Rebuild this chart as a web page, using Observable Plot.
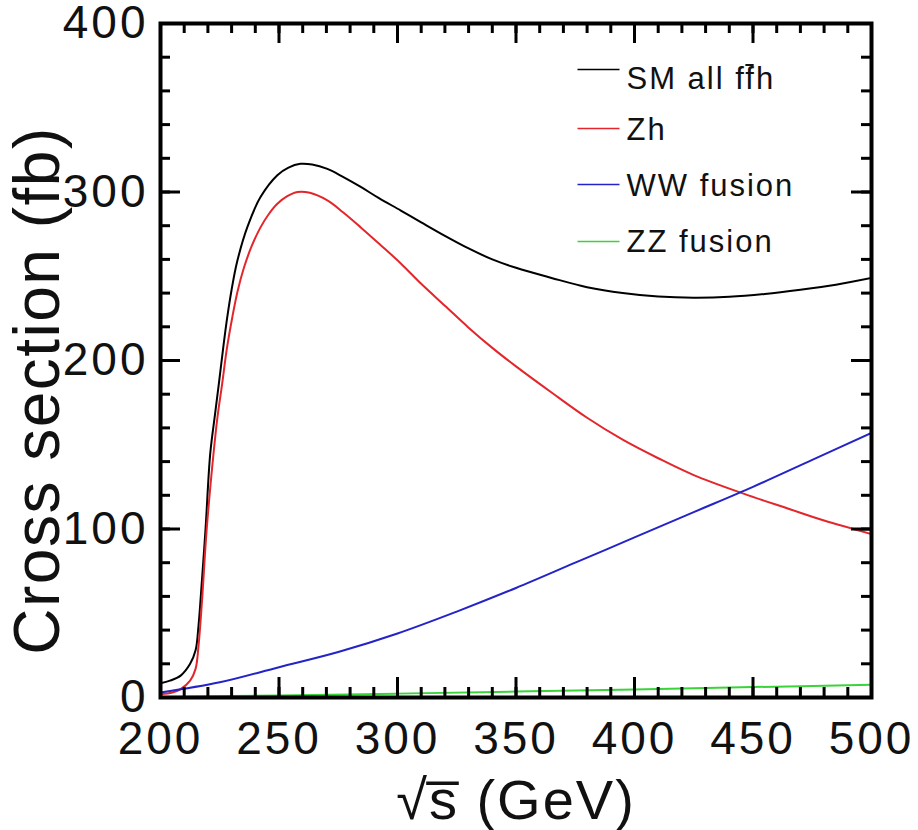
<!DOCTYPE html>
<html><head><meta charset="utf-8">
<script src="https://cdn.jsdelivr.net/npm/d3@7"></script>
<script src="https://cdn.jsdelivr.net/npm/@observablehq/plot@0.6"></script>
<style>
body{margin:0;background:#fff;}
#chart svg{font-family:"Liberation Sans",Arial,Helvetica,sans-serif;}
g[aria-label="x-axis tick label"] text, g[aria-label="y-axis tick label"] text{letter-spacing:3px;}
</style></head><body><div id="chart"></div>
<script>
// ---- data ----
const smX = [200,204,208.5,212.5,214.8,216,217,219,221,223,224.6,226.5,228.2,230,232.4,236.6,242.2,249.3,254,259,264,270.4,277,284.5,292,301.4,310,320,330,340,350,365,380,395,410,425,440,455,470,485,500];
const smY = [8.5,10,13,20,28,42,60,100,145,168,186,208,226,242,259,279,297,310,314.5,316.7,316.3,313.7,309,303,296.5,289,282,274,266.5,260,255,249,243.5,240,238,237.3,237.8,239.5,242,245,249];

const zhX = [200,205,208.5,212.5,214.8,216,217.5,219.5,222.5,224,226,228,230.3,232.5,235.2,238.5,242.2,245.5,249.3,253.5,257.8,263,270.4,277,284.5,292.5,301.4,310,320,330,340,350,365,380,395,410,425,446,465,480,500];
const zhY = [2,3,5,10,17,30,57,100,146.6,166,186,207,225.7,241,255,268,279,286.5,293,297.5,300,299.5,295,288,279,269,257.6,245.5,232.5,219.5,207.5,196.5,181,166,153,142,132,121,112,105,97];

const wwX = [200,225,250,275,300,325,350,375,400,425,450,475,500];
const wwY = [3,9,18,27,38,51,65,80,95,110,125,141,157];

const zzX = [200,250,300,350,400,450,500];
const zzY = [0.3,1.2,2.3,3.5,4.8,6.2,7.5];

const seriesNames = ["SM all ff\u0304h", "Zh", "WW fusion", "ZZ fusion"];
const seriesColors = ["#000000", "#e3262b", "#2323c8", "#3ad33a"];
const seriesData = [[smX, smY], [zhX, zhY], [wwX, wwY], [zzX, zzY]];

const xMajor = [200,250,300,350,400,450,500];
const yMajor = [0,100,200,300,400];
const xMinor = d3.range(200, 501, 10);
const yMinor = d3.range(0, 401, 20);
const xTitle = "\u221As\u0305 (GeV)";
const yTitle = "Cross section (fb)";

// ---- layout ----
const W = 918, H = 830;
const mL = 160, mR = 47, mT = 23, mB = 133;
const fw = W - mL - mR, fh = H - mT - mB;

const toRows = ([xs, ys]) => xs.map((x, i) => ({x, y: ys[i]}));

const hline = {draw(ctx) { ctx.moveTo(-21, 0); ctx.lineTo(21, 0); }};
const legLineY = [69, 128, 184, 241];
const legTextY = [79, 130, 185.5, 242];

const marks = [];
seriesData.forEach((s, i) => {
  marks.push(Plot.line(toRows(s), {x: "x", y: "y", stroke: seriesColors[i], strokeWidth: 2, curve: "catmull-rom", clip: true}));
});
// ticks inside on all four sides
marks.push(
  Plot.tickX(xMinor, {x: d => d, insetTop: fh - 10, stroke: "black", strokeWidth: 3}),
  Plot.tickX(xMajor, {x: d => d, insetTop: fh - 20, stroke: "black", strokeWidth: 3}),
  Plot.tickX(xMinor, {x: d => d, insetBottom: fh - 10, stroke: "black", strokeWidth: 3}),
  Plot.tickX(xMajor, {x: d => d, insetBottom: fh - 20, stroke: "black", strokeWidth: 3}),
  Plot.tickY(yMinor, {y: d => d, insetRight: fw - 10, stroke: "black", strokeWidth: 3}),
  Plot.tickY(yMajor, {y: d => d, insetRight: fw - 20, stroke: "black", strokeWidth: 3}),
  Plot.tickY(yMinor, {y: d => d, insetLeft: fw - 10, stroke: "black", strokeWidth: 3}),
  Plot.tickY(yMajor, {y: d => d, insetLeft: fw - 20, stroke: "black", strokeWidth: 3}),
  Plot.frame({stroke: "black", strokeWidth: 4}),
  Plot.axisX(xMajor, {tickSize: 0, tickPadding: 24, fontSize: 46, label: null, fill: "#111"}),
  Plot.axisY(yMajor, {tickSize: 0, tickPadding: 12, fontSize: 46, label: null, fill: "#111"}),
  Plot.text([yTitle], {frameAnchor: "left", rotate: -90, dx: -102, dy: 30, textAnchor: "middle", lineAnchor: "bottom", fontSize: 64, fill: "#111"}),
  Plot.text([xTitle], {frameAnchor: "bottom", dy: 121, textAnchor: "middle", lineAnchor: "bottom", fontSize: 56, fill: "#111"})
);
seriesNames.forEach((name, i) => {
  marks.push(
    Plot.dot([name], {frameAnchor: "top-left", dx: 438, dy: legLineY[i] - mT, symbol: hline, stroke: seriesColors[i], strokeWidth: 1.5, fill: "none"}),
    Plot.text([name], {frameAnchor: "top-left", dx: 466, dy: legTextY[i] - mT, textAnchor: "start", lineAnchor: "middle", fontSize: 31, fill: "#111"})
  );
});

const chart = Plot.plot({
  width: W, height: H,
  marginLeft: mL, marginRight: mR, marginTop: mT, marginBottom: mB,
  x: {domain: [200, 500]},
  y: {domain: [0, 400]},
  style: {background: "#fff", overflow: "visible"},
  marks
});
document.getElementById("chart").appendChild(chart);

// widen the lettering a little, as in the reference
d3.select(chart).selectAll("text").each(function() {
  const s = this.textContent;
  if (s === yTitle) this.style.letterSpacing = "1.5px";
  else if (s === xTitle) this.style.letterSpacing = "2px";
  else if (seriesNames.includes(s)) this.style.letterSpacing = "2px";
});
</script></body></html>
